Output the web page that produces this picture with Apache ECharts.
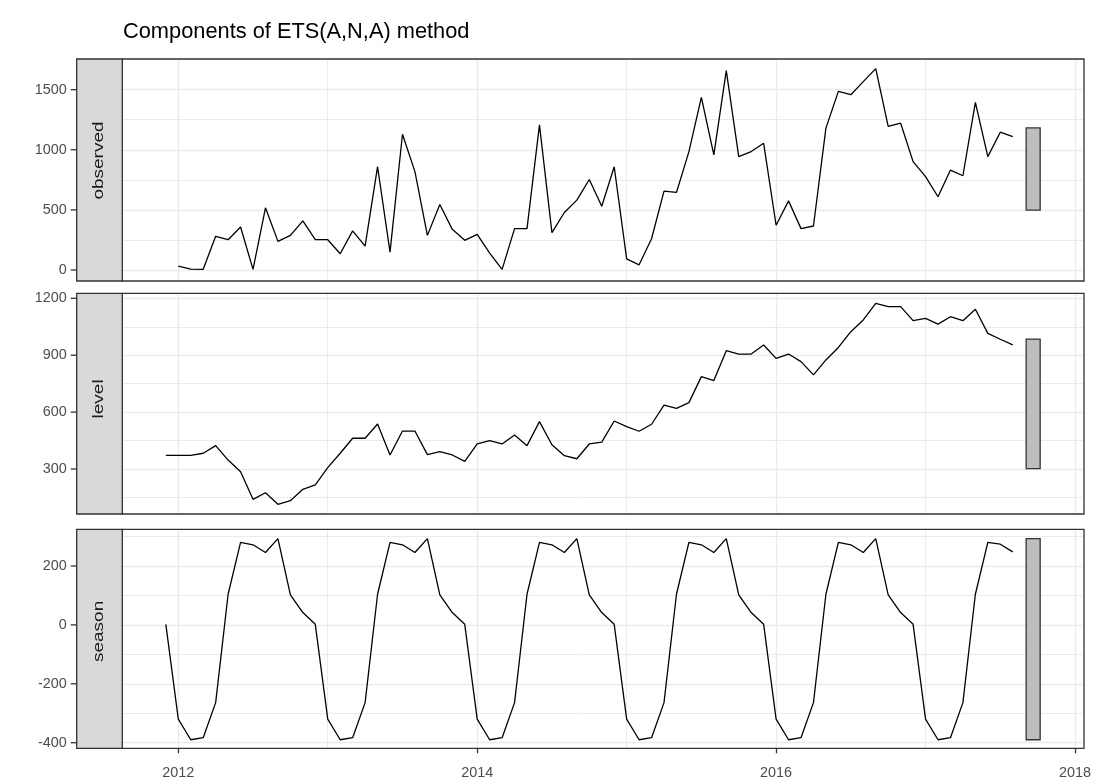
<!DOCTYPE html>
<html><head><meta charset="utf-8">
<script src="https://cdn.jsdelivr.net/npm/echarts@6/dist/echarts.min.js"></script>
<style>html,body{margin:0;padding:0;background:#fff}#c{width:1100px;height:783px}</style>
</head><body><div id="c"></div>
<script>
// ---------------- data ----------------
const titleText = 'Components of ETS(A,N,A) method';
const panelNames = ['observed', 'level', 'season'];
const xTickLabels = [2012, 2014, 2016, 2018];
const xMinorTicks = [2013, 2015, 2017];
const observedStart = [2012, 1];   // year, month
const componentStart = [2011, 12]; // year, month (initial state)

const observed = [
  32, 8, 6, 280, 252, 358, 5, 517, 238, 288, 408, 252,
  252, 135, 325, 199, 859, 149, 1129, 818, 288, 545, 338, 247,
  297, 141, 5, 344, 344, 1207, 311, 478, 581, 753, 530, 859,
  93, 43, 260, 656, 645, 985, 1436, 957, 1659, 943, 985, 1054,
  372, 575, 344, 366, 1180, 1486, 1458, 1567, 1675, 1194, 1221, 901,
  776, 609, 831, 784, 1394, 943, 1146, 1110
];
const level = [
  372,
  372, 372, 383, 423, 347, 286, 140, 175, 114, 133, 193, 216,
  307, 383, 462, 462, 537, 374, 500, 500, 376, 391, 374, 340,
  432, 449, 432, 479, 423, 550, 428, 370, 354, 432, 442, 553,
  523, 499, 536, 637, 620, 650, 787, 766, 924, 906, 906, 954,
  883, 906, 866, 796, 875, 941, 1024, 1086, 1173, 1156, 1156, 1082,
  1094, 1064, 1103, 1082, 1142, 1015, 984, 954
];
const season = [
  2,
  -320, -390, -383, -264, 104, 280, 272, 246, 293, 102, 42, 2,
  -320, -390, -383, -264, 104, 280, 272, 246, 293, 102, 42, 2,
  -320, -390, -383, -264, 104, 280, 272, 246, 293, 102, 42, 2,
  -320, -390, -383, -264, 104, 280, 272, 246, 293, 102, 42, 2,
  -320, -390, -383, -264, 104, 280, 272, 246, 293, 102, 42, 2,
  -320, -390, -383, -264, 104, 280, 274, 248
];
const yTickValues = [[0, 500, 1000, 1500], [300, 600, 900, 1200], [-400, -200, 0, 200]];
const yMinorValues = [[250, 750, 1250, 1750], [150, 450, 750, 1050], [-300, -100, 100, 300]];

// ---------------- layout ----------------
const FONT = '"Liberation Sans", Arial, sans-serif';
const stripLeft = 76.7, panelLeft = 122.3, panelRight = 1084;
const panelTops = [59, 293.3, 529.3];
const panelHeights = [222, 220.7, 219];
const yRanges = [[-91.5, 1755], [62.7, 1226.4], [-419, 324.6]];
const xRange = [2011.3202, 2018.0602]; // left end sits under the strip
const rangeBarX = 2017.72;
const rangeBarPx = 14;
const tickLen = 6;
const stripFontPx = 14.4, stripStretch = 1.32;

function toXY(start, vals) {
  return vals.map((v, i) => [start[0] + (start[1] - 1 + i) / 12, v]);
}
const seriesData = [toXY(observedStart, observed), toXY(componentStart, level), toXY(componentStart, season)];
const rawVals = [observed, level, season];
const ranges = rawVals.map(a => [Math.min(...a), Math.max(...a)]);
const minSpan = Math.min(...ranges.map(r => r[1] - r[0]));
const bars = ranges.map(r => { const c = (r[0] + r[1]) / 2; return [rangeBarX, c - minSpan / 2, c + minSpan / 2]; });

const measureCtx = document.createElement('canvas').getContext('2d');
measureCtx.font = stripFontPx + 'px ' + FONT;

const grids = [], xAxes = [], yAxes = [], series = [], graphics = [];
for (let i = 0; i < 3; i++) {
  grids.push({ left: stripLeft, top: panelTops[i], width: panelRight - stripLeft, height: panelHeights[i], show: false });
  const bottom = i === 2;
  xAxes.push({
    type: 'value', gridIndex: i, min: xRange[0], max: xRange[1], position: 'bottom',
    axisLine: { show: false, onZero: false },
    axisTick: { show: bottom, length: 5, lineStyle: { color: '#333333', width: 1.3 }, customValues: xTickLabels },
    axisLabel: { show: bottom, customValues: xTickLabels, formatter: v => String(v), color: '#4d4d4d', fontSize: 14.4, fontFamily: FONT, margin: 18 },
    splitLine: { show: true, lineStyle: { color: '#ebebeb', width: 1.4 } }
  });
  xAxes.push({
    type: 'value', gridIndex: i, min: xRange[0], max: xRange[1], position: 'top',
    axisLine: { show: false, onZero: false },
    axisTick: { show: false, customValues: xMinorTicks },
    axisLabel: { show: false },
    splitLine: { show: true, lineStyle: { color: '#ebebeb', width: 1.0 } }
  });
  yAxes.push({
    type: 'value', gridIndex: i, min: yRanges[i][0], max: yRanges[i][1], position: 'left',
    axisLine: { show: false, onZero: false },
    axisTick: { show: false, customValues: yTickValues[i] },
    axisLabel: { customValues: yTickValues[i], formatter: v => String(v), color: '#4d4d4d', fontSize: 14.4, fontFamily: FONT, margin: 10 },
    splitLine: { show: true, lineStyle: { color: '#ebebeb', width: 1.4 } }
  });
  yAxes.push({
    type: 'value', gridIndex: i, min: yRanges[i][0], max: yRanges[i][1], position: 'right',
    axisLine: { show: false, onZero: false },
    axisTick: { show: false, customValues: yMinorValues[i] },
    axisLabel: { show: false },
    splitLine: { show: true, lineStyle: { color: '#ebebeb', width: 1.0 } }
  });
  series.push({
    type: 'line', xAxisIndex: 2 * i, yAxisIndex: 2 * i, data: seriesData[i],
    showSymbol: false, symbol: 'none', lineStyle: { color: '#000000', width: 1.3 }, z: 5
  });
  series.push({
    type: 'custom', xAxisIndex: 2 * i, yAxisIndex: 2 * i, data: [bars[i]],
    encode: { x: 0, y: [1, 2] }, z: 6,
    renderItem: (params, api) => {
      const top = api.coord([api.value(0), api.value(2)]);
      const bot = api.coord([api.value(0), api.value(1)]);
      return { type: 'rect', shape: { x: top[0] - rangeBarPx / 2, y: top[1], width: rangeBarPx, height: bot[1] - top[1] },
        style: { fill: '#bebebe', stroke: '#333333', lineWidth: 1.3 } };
    }
  });
  // panel border
  graphics.push({ type: 'rect', z: 100, shape: { x: panelLeft, y: panelTops[i], width: panelRight - panelLeft, height: panelHeights[i] },
    style: { fill: 'none', stroke: '#333333', lineWidth: 1.3 } });
  // strip
  graphics.push({ type: 'rect', z: 100, shape: { x: stripLeft, y: panelTops[i], width: panelLeft - stripLeft, height: panelHeights[i] },
    style: { fill: '#d9d9d9', stroke: '#333333', lineWidth: 1.3 } });
  const w = measureCtx.measureText(panelNames[i]).width;
  graphics.push({ type: 'text', z: 101, x: (stripLeft + panelLeft) / 2, y: panelTops[i] + panelHeights[i] / 2 + w / 2,
    rotation: Math.PI / 2, scaleX: stripStretch, scaleY: 1,
    style: { text: panelNames[i], fill: '#1a1a1a', font: stripFontPx + 'px ' + FONT, textAlign: 'left', textVerticalAlign: 'middle' } });
}

const chart = echarts.init(document.getElementById('c'), null, { renderer: 'canvas' });
chart.setOption({
  animation: false,
  backgroundColor: '#ffffff',
  title: { text: titleText, left: 123, top: 21, padding: 0,
    textStyle: { fontSize: 21.8, fontWeight: 'normal', color: '#000000', fontFamily: FONT } },
  grid: grids, xAxis: xAxes, yAxis: yAxes, series: series, graphic: graphics
});

// y-axis tick marks, positioned through each panel's axis scale (drawn as one path per panel)
const tickGraphics = [];
for (let i = 0; i < 3; i++) {
  const pts = yTickValues[i].map(v => chart.convertToPixel({ gridIndex: i }, [xRange[0], v]));
  pts.forEach(p => {
    const x0 = (p && isFinite(p[0])) ? p[0] : stripLeft;
    const y0 = p[1];
    tickGraphics.push({ type: 'rect', z: 110, silent: true,
      shape: { x: x0 - tickLen, y: y0 - 0.65, width: tickLen, height: 1.3 },
      style: { fill: '#333333' } });
  });
}
chart.setOption({ graphic: { elements: graphics.concat(tickGraphics) } });
</script></body></html>
